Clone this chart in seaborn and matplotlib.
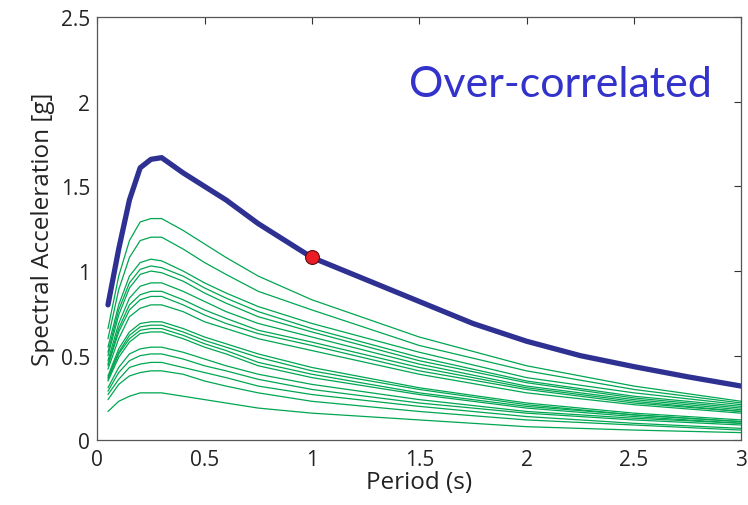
import numpy as np
import pandas as pd
import matplotlib
matplotlib.use("Agg")
import matplotlib.pyplot as plt
import seaborn as sns

# periods (s)
periods = [0.05, 0.1, 0.15, 0.2, 0.25, 0.3, 0.4, 0.5, 0.6, 0.75, 1.0, 1.5, 2.0, 2.5, 3.0]

# conditional mean spectrum (thick blue), read on a finer period grid
target_periods = [0.05, 0.1, 0.15, 0.2, 0.25, 0.3, 0.4, 0.5, 0.6, 0.75, 1.0,
                  1.25, 1.5, 1.75, 2.0, 2.25, 2.5, 2.75, 3.0]
target_sa = [0.80, 1.13, 1.42, 1.61, 1.66, 1.67, 1.58, 1.50, 1.42, 1.28, 1.08,
             0.95, 0.82, 0.69, 0.585, 0.50, 0.435, 0.375, 0.32]

# conditioning point
cond_period = 1.0
cond_sa = 1.08

# selected ground motion spectra (thin green)
gm01 = [0.66, 0.97, 1.18, 1.29, 1.31, 1.31, 1.24, 1.16, 1.08, 0.97, 0.83, 0.61, 0.44, 0.32, 0.23]
gm02 = [0.60, 0.89, 1.08, 1.18, 1.20, 1.20, 1.13, 1.05, 0.98, 0.88, 0.77, 0.56, 0.41, 0.30, 0.22]
gm03 = [0.55, 0.80, 0.97, 1.05, 1.07, 1.06, 1.00, 0.93, 0.87, 0.79, 0.69, 0.52, 0.37, 0.28, 0.21]
gm04 = [0.52, 0.77, 0.93, 1.01, 1.03, 1.02, 0.97, 0.90, 0.84, 0.76, 0.66, 0.49, 0.35, 0.26, 0.20]
gm05 = [0.50, 0.74, 0.90, 0.98, 1.00, 0.99, 0.94, 0.87, 0.81, 0.73, 0.64, 0.47, 0.34, 0.25, 0.19]
gm06 = [0.47, 0.69, 0.84, 0.91, 0.93, 0.93, 0.88, 0.82, 0.76, 0.69, 0.61, 0.45, 0.32, 0.24, 0.18]
gm07 = [0.45, 0.66, 0.80, 0.86, 0.88, 0.88, 0.83, 0.77, 0.72, 0.65, 0.58, 0.43, 0.31, 0.23, 0.17]
gm08 = [0.44, 0.64, 0.77, 0.83, 0.85, 0.85, 0.80, 0.74, 0.69, 0.63, 0.56, 0.41, 0.30, 0.22, 0.17]
gm09 = [0.42, 0.60, 0.73, 0.78, 0.80, 0.80, 0.76, 0.70, 0.66, 0.60, 0.53, 0.39, 0.28, 0.21, 0.16]
gm10 = [0.38, 0.54, 0.64, 0.69, 0.70, 0.70, 0.66, 0.61, 0.57, 0.51, 0.43, 0.31, 0.22, 0.16, 0.12]
gm11 = [0.37, 0.52, 0.62, 0.67, 0.68, 0.68, 0.64, 0.59, 0.55, 0.49, 0.41, 0.30, 0.21, 0.15, 0.11]
gm12 = [0.36, 0.51, 0.60, 0.65, 0.66, 0.66, 0.62, 0.57, 0.53, 0.46, 0.39, 0.28, 0.20, 0.15, 0.11]
gm13 = [0.35, 0.49, 0.58, 0.63, 0.64, 0.64, 0.60, 0.55, 0.51, 0.44, 0.37, 0.27, 0.19, 0.14, 0.10]
gm14 = [0.31, 0.43, 0.51, 0.54, 0.55, 0.55, 0.52, 0.48, 0.44, 0.39, 0.33, 0.24, 0.17, 0.13, 0.10]
gm15 = [0.29, 0.40, 0.47, 0.50, 0.51, 0.51, 0.48, 0.44, 0.41, 0.36, 0.30, 0.22, 0.16, 0.12, 0.09]
gm16 = [0.27, 0.36, 0.43, 0.45, 0.46, 0.46, 0.43, 0.40, 0.37, 0.32, 0.27, 0.20, 0.14, 0.10, 0.07]
gm17 = [0.24, 0.33, 0.38, 0.40, 0.41, 0.41, 0.39, 0.35, 0.32, 0.28, 0.23, 0.17, 0.12, 0.09, 0.06]
gm18 = [0.17, 0.23, 0.26, 0.28, 0.28, 0.28, 0.26, 0.24, 0.22, 0.19, 0.16, 0.12, 0.08, 0.06, 0.045]

records = [gm01, gm02, gm03, gm04, gm05, gm06, gm07, gm08, gm09,
           gm10, gm11, gm12, gm13, gm14, gm15, gm16, gm17, gm18]

gm_df = pd.DataFrame({
    'period': np.tile(periods, len(records)),
    'sa': np.concatenate(records),
    'record': np.repeat(np.arange(len(records)), len(periods)),
})
target_df = pd.DataFrame({'period': target_periods, 'sa': target_sa})

sns.set_style('white')
plt.rcParams['font.family'] = ['Open Sans', 'DejaVu Sans']

fig = plt.figure(figsize=(7.48, 5.06), dpi=100)
ax = fig.add_axes([0.130, 0.128, 0.861, 0.836])

sns.lineplot(data=gm_df, x='period', y='sa', units='record', estimator=None,
             color='#00a651', linewidth=0.9, ax=ax)
sns.lineplot(data=target_df, x='period', y='sa', color='#2e3192',
             linewidth=3.8, ax=ax)
ax.plot(cond_period, cond_sa, 'o', markersize=10, markerfacecolor='#ed1c24',
        markeredgecolor='#5a1010', markeredgewidth=0.8, zorder=5)

ax.set_xlim(0, 3)
ax.set_ylim(0, 2.5)
ax.set_xticks([0, 0.5, 1, 1.5, 2, 2.5, 3])
ax.set_xticklabels(['0', '0.5', '1', '1.5', '2', '2.5', '3'])
ax.set_yticks([0, 0.5, 1, 1.5, 2, 2.5])
ax.set_yticklabels(['0', '0.5', '1', '1.5', '2', '2.5'])
ax.tick_params(direction='in', length=5, width=0.8, colors='#333333',
               labelsize=15, labelcolor='#222222', top=True, right=True)
ax.tick_params(axis='x', pad=6)
ax.tick_params(axis='y', pad=5)
for s in ax.spines.values():
    s.set_color('#555555')
    s.set_linewidth(0.9)

ax.set_xlabel('Period (s)', fontsize=17.5, color='#222222', labelpad=0)
ax.set_ylabel('Spectral Acceleration [g]', fontsize=17.5, color='#222222', labelpad=4)

ax.text(0.955, 0.842, 'Over-correlated', transform=ax.transAxes, ha='right',
        va='center', fontsize=31, color='#3333cc', family=['Lato', 'DejaVu Sans'])

fig.savefig('out.png', dpi=100, facecolor='white')
